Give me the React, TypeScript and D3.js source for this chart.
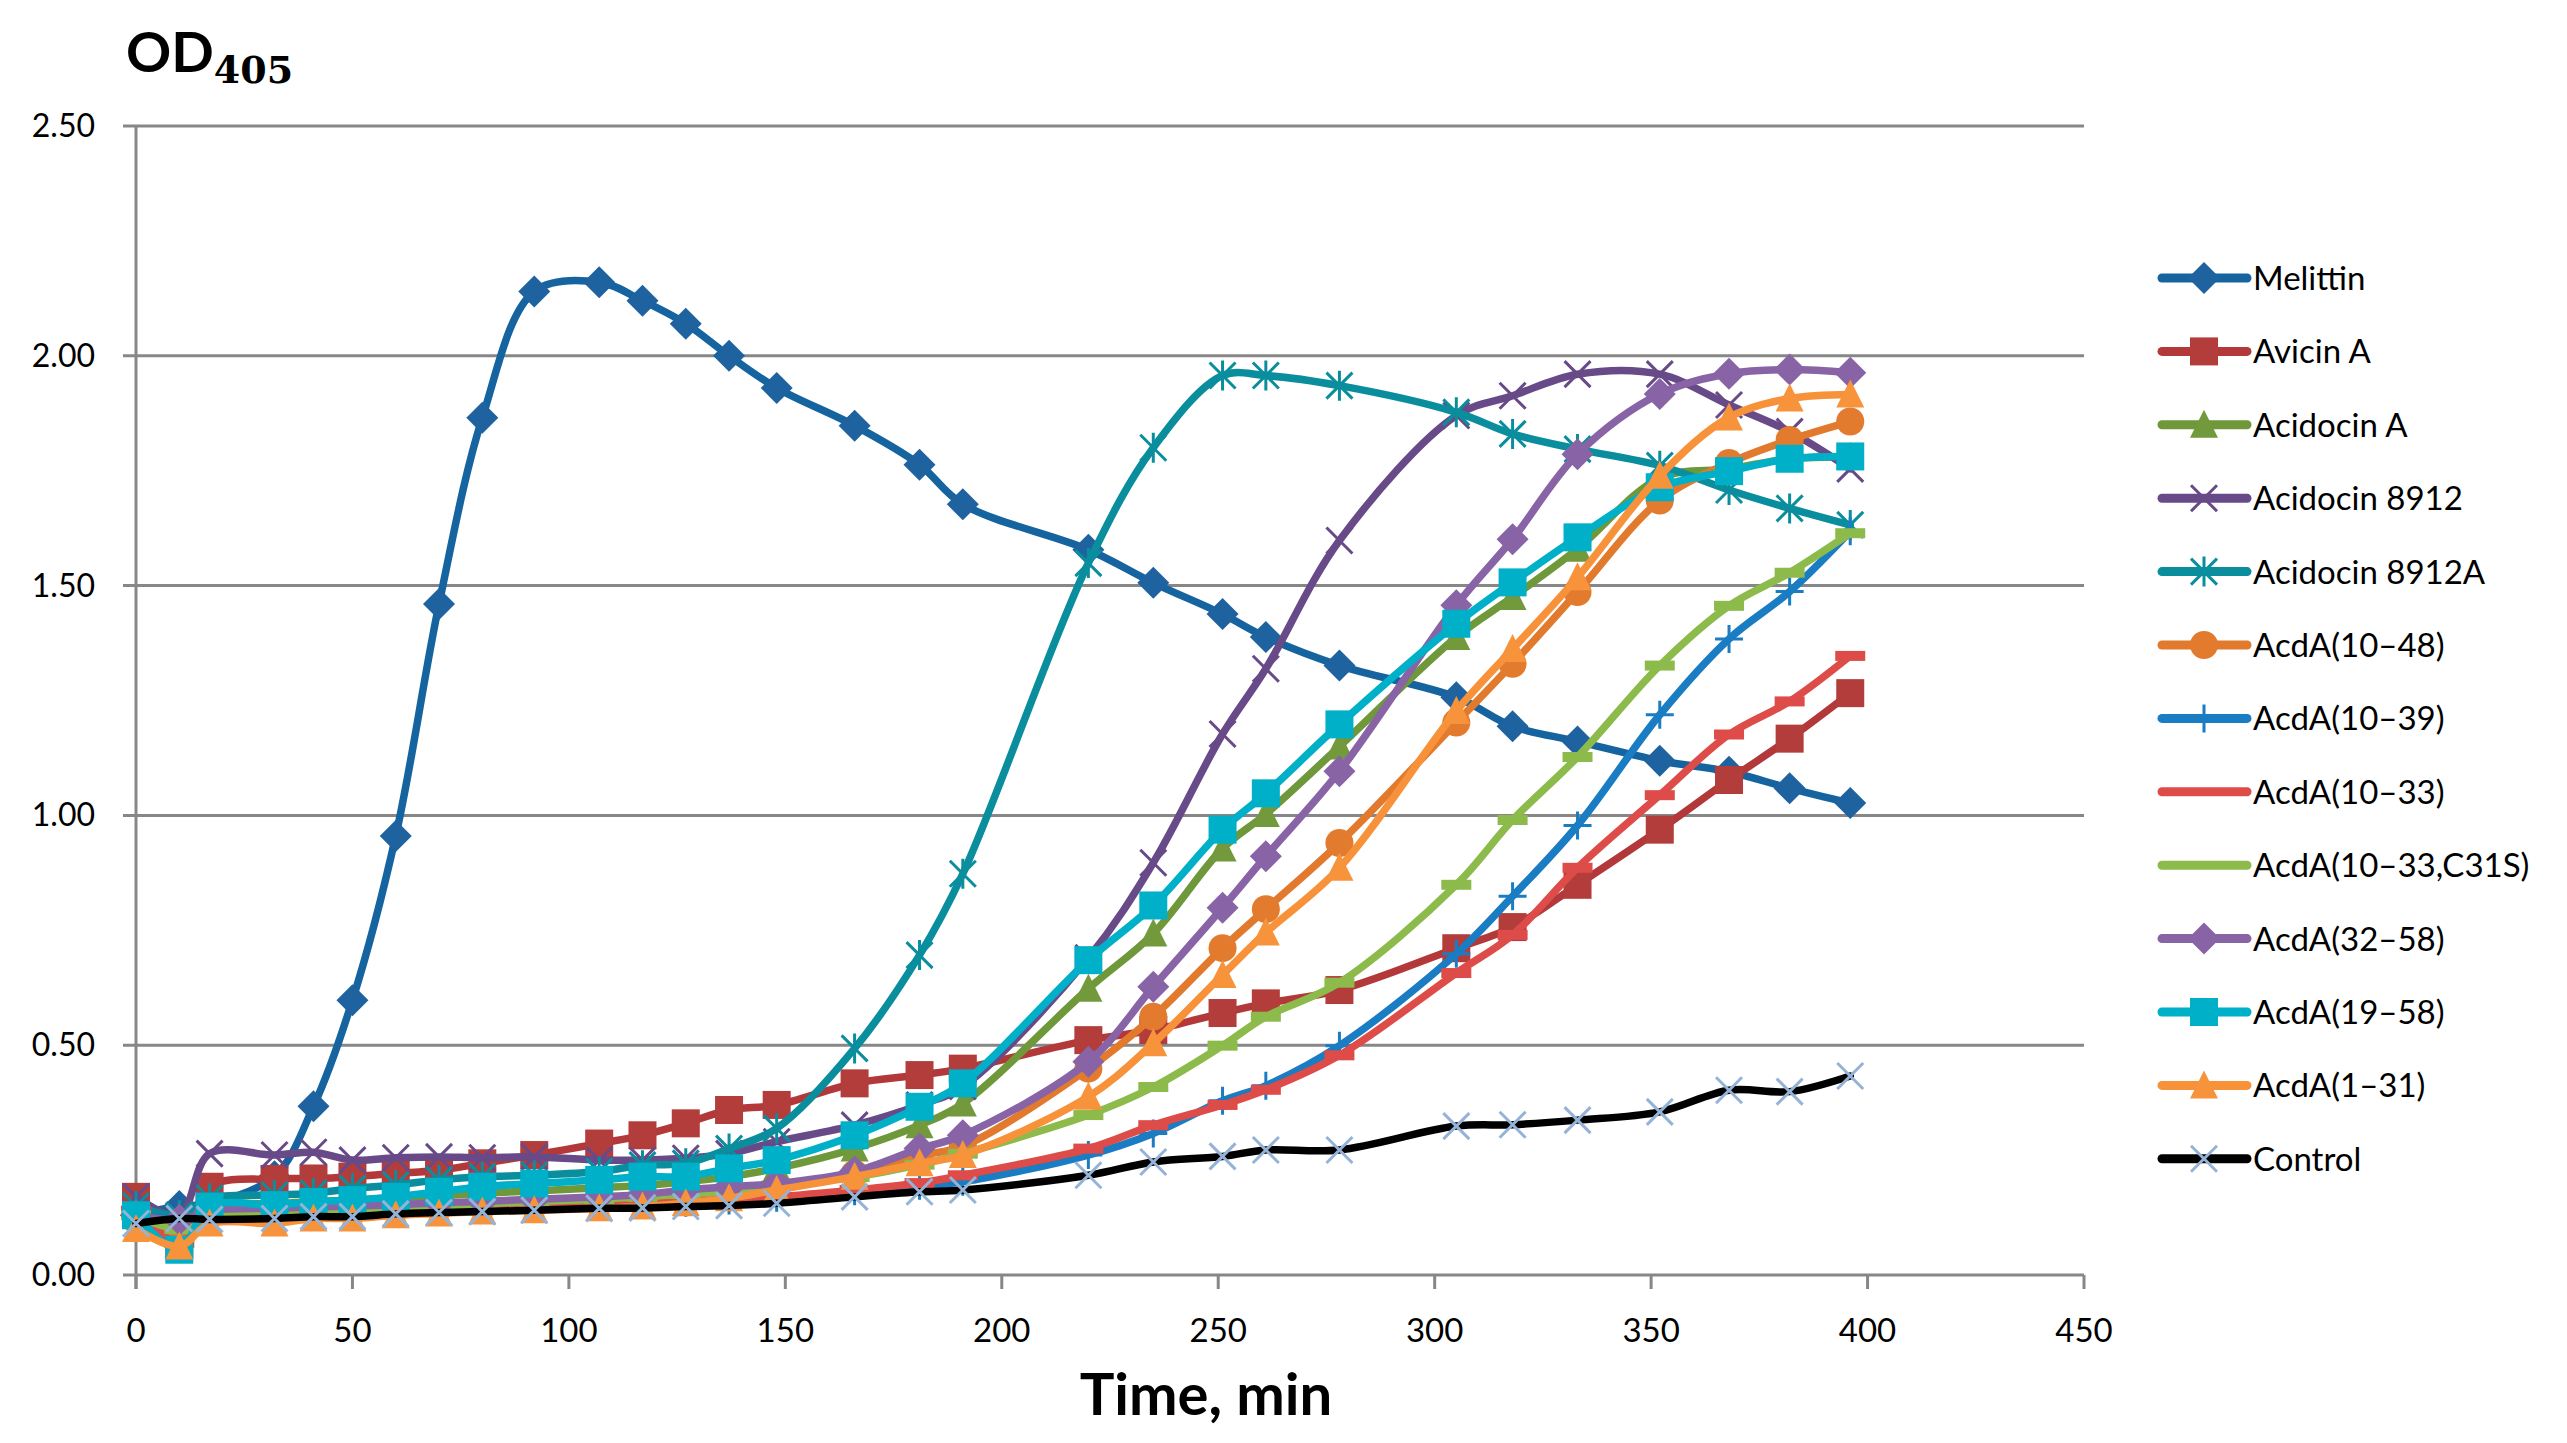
import React from "react";
import * as d3 from "d3";

const times = [0, 10, 17, 32, 41, 50, 60, 70, 80, 92, 107, 117, 127, 137, 148, 166, 181, 191, 220, 235, 251, 261, 278, 305, 318, 333, 352, 368, 382, 396];

const melittin = [0.13, 0.15, 0.155, 0.215, 0.367, 0.598, 0.955, 1.46, 1.865, 2.14, 2.16, 2.12, 2.07, 2.0, 1.93, 1.848, 1.763, 1.677, 1.578, 1.506, 1.438, 1.388, 1.326, 1.257, 1.194, 1.161, 1.119, 1.095, 1.059, 1.027];
const avicinA = [0.17, 0.065, 0.192, 0.209, 0.21, 0.214, 0.221, 0.228, 0.243, 0.261, 0.286, 0.304, 0.33, 0.359, 0.37, 0.417, 0.435, 0.449, 0.511, 0.533, 0.57, 0.591, 0.62, 0.711, 0.757, 0.849, 0.969, 1.077, 1.167, 1.266];
const acidocinA = [0.14, 0.1, 0.15, 0.155, 0.16, 0.163, 0.168, 0.172, 0.178, 0.183, 0.19, 0.195, 0.203, 0.214, 0.232, 0.275, 0.326, 0.373, 0.623, 0.743, 0.928, 1.003, 1.15, 1.388, 1.475, 1.58, 1.734, 1.754, 1.776, 1.78];
const acidocin8912 = [0.17, 0.13, 0.264, 0.261, 0.267, 0.25, 0.255, 0.257, 0.255, 0.257, 0.25, 0.25, 0.254, 0.264, 0.29, 0.326, 0.37, 0.41, 0.69, 0.897, 1.177, 1.319, 1.598, 1.87, 1.913, 1.96, 1.96, 1.893, 1.835, 1.754];
const acidocin8912A = [0.15, 0.13, 0.167, 0.174, 0.178, 0.188, 0.196, 0.207, 0.214, 0.217, 0.225, 0.239, 0.243, 0.275, 0.319, 0.493, 0.696, 0.873, 1.549, 1.8, 1.957, 1.957, 1.935, 1.877, 1.83, 1.797, 1.761, 1.708, 1.668, 1.632];
const acdA10_48 = [0.12, 0.08, 0.13, 0.135, 0.14, 0.142, 0.145, 0.148, 0.15, 0.153, 0.157, 0.16, 0.17, 0.18, 0.19, 0.22, 0.26, 0.28, 0.449, 0.562, 0.711, 0.796, 0.94, 1.202, 1.33, 1.486, 1.685, 1.767, 1.817, 1.857];
const acdA10_39 = [0.13, 0.12, 0.125, 0.13, 0.132, 0.135, 0.138, 0.14, 0.143, 0.146, 0.15, 0.153, 0.157, 0.162, 0.168, 0.182, 0.194, 0.203, 0.261, 0.308, 0.379, 0.412, 0.499, 0.699, 0.824, 0.978, 1.219, 1.384, 1.487, 1.618];
const acdA10_33 = [0.14, 0.07, 0.125, 0.13, 0.133, 0.136, 0.139, 0.142, 0.145, 0.148, 0.152, 0.155, 0.159, 0.164, 0.17, 0.185, 0.2, 0.217, 0.275, 0.326, 0.37, 0.403, 0.478, 0.657, 0.74, 0.886, 1.044, 1.176, 1.248, 1.347];
const acdA10_33C31S = [0.13, 0.1, 0.13, 0.135, 0.14, 0.143, 0.147, 0.15, 0.155, 0.16, 0.165, 0.17, 0.176, 0.183, 0.195, 0.213, 0.24, 0.264, 0.348, 0.409, 0.499, 0.562, 0.636, 0.849, 0.99, 1.127, 1.326, 1.456, 1.528, 1.614];
const acdA32_58 = [0.13, 0.12, 0.14, 0.145, 0.148, 0.15, 0.153, 0.157, 0.16, 0.165, 0.17, 0.175, 0.185, 0.192, 0.199, 0.225, 0.275, 0.304, 0.464, 0.627, 0.799, 0.911, 1.096, 1.457, 1.601, 1.786, 1.917, 1.961, 1.97, 1.963];
const acdA19_58 = [0.13, 0.055, 0.149, 0.152, 0.159, 0.163, 0.17, 0.181, 0.192, 0.199, 0.207, 0.214, 0.214, 0.232, 0.25, 0.304, 0.366, 0.417, 0.685, 0.804, 0.969, 1.048, 1.198, 1.417, 1.507, 1.605, 1.714, 1.749, 1.776, 1.781];
const acdA1_31 = [0.1, 0.062, 0.112, 0.112, 0.123, 0.123, 0.13, 0.134, 0.138, 0.141, 0.145, 0.149, 0.156, 0.167, 0.185, 0.214, 0.243, 0.261, 0.388, 0.504, 0.653, 0.745, 0.886, 1.227, 1.362, 1.518, 1.739, 1.866, 1.907, 1.916];
const control = [0.112, 0.123, 0.121, 0.123, 0.127, 0.127, 0.133, 0.136, 0.138, 0.141, 0.145, 0.146, 0.149, 0.151, 0.156, 0.17, 0.181, 0.185, 0.217, 0.246, 0.258, 0.272, 0.272, 0.324, 0.327, 0.337, 0.355, 0.402, 0.399, 0.433];

const seriesNames = ["Melittin", "Avicin A", "Acidocin A", "Acidocin 8912", "Acidocin 8912A", "AcdA(10–48)", "AcdA(10–39)", "AcdA(10–33)", "AcdA(10–33,C31S)", "AcdA(32–58)", "AcdA(19–58)", "AcdA(1–31)", "Control"];
const seriesValues = [melittin, avicinA, acidocinA, acidocin8912, acidocin8912A, acdA10_48, acdA10_39, acdA10_33, acdA10_33C31S, acdA32_58, acdA19_58, acdA1_31, control];
const lineColors = ["#16649F", "#B2383A", "#6F983A", "#684A88", "#0A8E9E", "#E27A2E", "#1A7CC2", "#DD4C48", "#8DBB4B", "#8864A6", "#00AFC8", "#F7923A", "#000000"];
const markerColors = ["#1E63A0", "#B33D3B", "#72993B", "#684A88", "#0A8E9E", "#E37B2F", "#1A7CC2", "#DD4C48", "#8DBB4B", "#8864A6", "#00AFC8", "#F7933B", "#95B3D7"];
const markerShapes = ["diamond", "square", "triangle", "x", "asterisk", "circle", "plus", "dash", "dash", "diamond", "square", "triangle", "x"];

const yTicks = [0, 0.5, 1.0, 1.5, 2.0, 2.5];
const xTicks = [0, 50, 100, 150, 200, 250, 300, 350, 400, 450];

const W = 2567;
const H = 1443;
const x = d3.scaleLinear().domain([0, 450]).range([136, 2084]);
const y = d3.scaleLinear().domain([0, 2.5]).range([1275, 126]);
const fmt = d3.format(".2f");
const FONT = "Lato, 'Open Sans', sans-serif";
const GRID = "#878787";

function Marker({ shape, cx, cy, color }: { shape: string; cx: number; cy: number; color: string }) {
  const s = 14;
  switch (shape) {
    case "diamond":
      return <path d={`M${cx},${cy - 16}L${cx + 16},${cy}L${cx},${cy + 16}L${cx - 16},${cy}Z`} fill={color} />;
    case "square":
      return <rect x={cx - s} y={cy - s} width={2 * s} height={2 * s} fill={color} />;
    case "triangle":
      return <path d={`M${cx},${cy - 15}L${cx + 14},${cy + 13}L${cx - 14},${cy + 13}Z`} fill={color} />;
    case "circle":
      return <circle cx={cx} cy={cy} r={14} fill={color} />;
    case "x":
      return (
        <path d={`M${cx - 13},${cy - 13}L${cx + 13},${cy + 13}M${cx - 13},${cy + 13}L${cx + 13},${cy - 13}`} stroke={color} strokeWidth={3} fill="none" />
      );
    case "asterisk":
      return (
        <path d={`M${cx - 13},${cy - 13}L${cx + 13},${cy + 13}M${cx - 13},${cy + 13}L${cx + 13},${cy - 13}M${cx},${cy - 15}L${cx},${cy + 15}`} stroke={color} strokeWidth={3} fill="none" />
      );
    case "plus":
      return (
        <path d={`M${cx - 14},${cy}L${cx + 14},${cy}M${cx},${cy - 14}L${cx},${cy + 14}`} stroke={color} strokeWidth={3} fill="none" />
      );
    case "dash":
      return <rect x={cx - 15} y={cy - 5} width={30} height={10} fill={color} />;
    default:
      return null;
  }
}

export default function App() {
  const line = d3
    .line<number>()
    .x((_, i) => x(times[i]))
    .y((d) => y(d))
    .curve(d3.curveCatmullRom.alpha(0.5));

  const legendX0 = 2162;
  const legendX1 = 2247;
  const legendMx = 2204;
  const legendY0 = 278;
  const legendStep = 73.4;

  return (
    <svg width={W} height={H} style={{ position: "absolute", left: 0, top: 0, display: "block", background: "#fff" }}>
      <rect x={0} y={0} width={W} height={H} fill="#fff" />
      {yTicks.map((t) => (
        <line key={"g" + t} x1={123} x2={2084} y1={y(t)} y2={y(t)} stroke={GRID} strokeWidth={3} />
      ))}
      <line x1={x(0)} x2={x(0)} y1={y(2.5)} y2={y(0) + 14} stroke={GRID} strokeWidth={3} />
      {xTicks.map((t) => (
        <line key={"xt" + t} x1={x(t)} x2={x(t)} y1={y(0)} y2={y(0) + 14} stroke={GRID} strokeWidth={3} />
      ))}
      {yTicks.map((t) => (
        <text key={"yl" + t} x={95} y={y(t) + 11} textAnchor="end" fontFamily={FONT} fontSize={32} fill="#000">
          {fmt(t)}
        </text>
      ))}
      {xTicks.map((t) => (
        <text key={"xl" + t} x={x(t)} y={1342} textAnchor="middle" fontFamily={FONT} fontSize={33} fill="#000">
          {t}
        </text>
      ))}
      {seriesValues.map((vals, si) => (
        <g key={"s" + si}>
          <path d={line(vals) || ""} fill="none" stroke={lineColors[si]} strokeWidth={7.5} strokeLinejoin="round" strokeLinecap="round" />
          {vals.map((v, i) => (
            <Marker key={i} shape={markerShapes[si]} cx={x(times[i])} cy={y(v)} color={markerColors[si]} />
          ))}
        </g>
      ))}
      {seriesNames.map((name, i) => {
        const ly = legendY0 + i * legendStep;
        return (
          <g key={"l" + i}>
            <line x1={legendX0} x2={legendX1} y1={ly} y2={ly} stroke={lineColors[i]} strokeWidth={9} strokeLinecap="round" />
            {markerShapes[i] !== "dash" && <Marker shape={markerShapes[i]} cx={legendMx} cy={ly} color={markerColors[i]} />}
            <text x={2253} y={ly + 12} fontFamily={FONT} fontSize={33} fill="#000">
              {name}
            </text>
          </g>
        );
      })}
      <text x={126} y={72} fontFamily={FONT} fontSize={56} fontWeight="bold" fill="#000">
        OD
        <tspan fontFamily="'DejaVu Serif', serif" fontWeight="bold" fontSize={38} dy={11}>
          405
        </tspan>
      </text>
      <text x={1206} y={1415} textAnchor="middle" fontFamily={FONT} fontSize={58} fontWeight="bold" fill="#000">
        Time, min
      </text>
    </svg>
  );
}
